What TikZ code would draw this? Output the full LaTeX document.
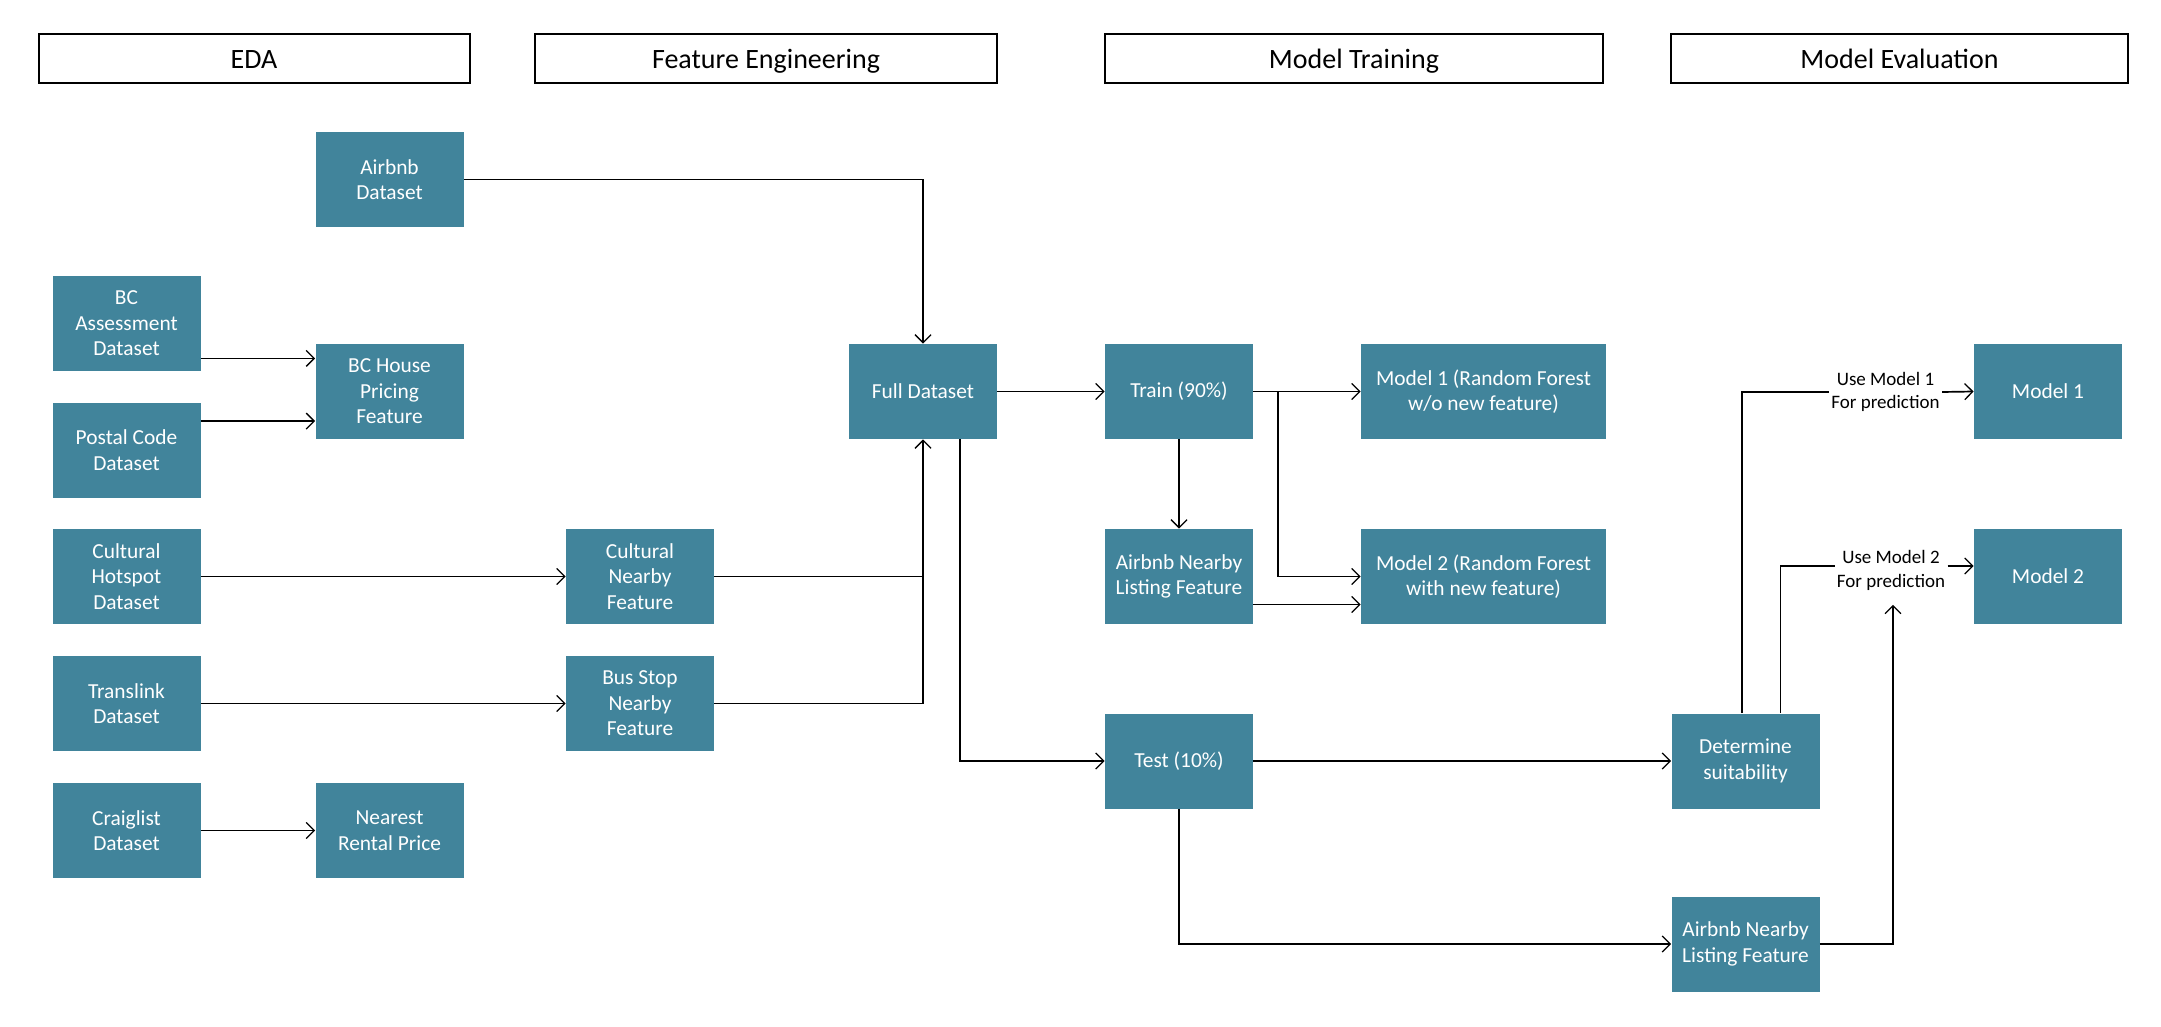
\documentclass[tikz,border=0pt]{standalone}
\usepackage{fontspec}
\setmainfont{Carlito}
\usetikzlibrary{arrows.meta}
\definecolor{tealbox}{RGB}{65,132,155}
\begin{document}
\begin{tikzpicture}[x=0.5pt,y=-0.5pt,
  hdr/.style={draw=black,line width=1pt,minimum height=24.5pt,inner sep=0pt,text height=13pt,text depth=3.2pt,font=\fontsize{14}{16}\selectfont},
  box/.style={fill=tealbox,text=white,minimum width=74pt,minimum height=47.5pt,inner sep=1pt,align=center,font=\fontsize{10.7}{12.8}\selectfont},
  wbox/.style={box,minimum width=122.5pt},
  lbl/.style={inner xsep=1pt,inner ysep=1pt,align=center,font=\fontsize{9.5}{11.75}\selectfont},
  conn/.style={line width=0.85pt},
  arr/.style={conn,-{Straight Barb[length=4pt,width=8pt,line width=0.65pt]}}]
\useasboundingbox (0,0) rectangle (2161,1027);
% headers
\node[hdr,minimum width=215.5pt] (h1) at (254,58.5) {EDA};
\node[hdr,minimum width=231pt] (h2) at (766,58.5) {Feature Engineering};
\node[hdr,minimum width=249pt] (h3) at (1354,58.5) {Model Training};
\node[hdr,minimum width=228.5pt] (h4) at (1899.5,58.5) {Model Evaluation};
% boxes
\node[box] (airbnb) at (389.5,179.5) {Airbnb\\Dataset};
\node[box] (bca) at (126.5,323.5) {BC\\Assessment\\Dataset};
\node[box] (bch) at (389.5,391.5) {BC House\\Pricing\\Feature};
\node[box] (postal) at (126.5,450) {Postal Code\\Dataset};
\node[box] (cult) at (126.5,576.5) {Cultural\\Hotspot\\Dataset};
\node[box] (cultn) at (640,576.5) {Cultural\\Nearby\\Feature};
\node[box] (trans) at (126.5,703.5) {Translink\\Dataset};
\node[box] (busn) at (640,703.5) {Bus Stop\\Nearby\\Feature};
\node[box] (craig) at (126.5,830.5) {Craiglist\\Dataset};
\node[box] (rent) at (389.5,830.5) {Nearest\\Rental Price};
\node[box] (full) at (923,391.5) {Full Dataset};
\node[box] (train) at (1179,391.5) {Train (90\%)};
\node[box] (ant) at (1179,576.5) {Airbnb Nearby\\Listing Feature};
\node[wbox] (rf1) at (1483.5,391.5) {Model 1 (Random Forest\\w/o new feature)};
\node[wbox] (rf2) at (1483.5,576.5) {Model 2 (Random Forest\\with new feature)};
\node[box] (test) at (1179,761) {Test (10\%)};
\node[box] (det) at (1745.5,761) {Determine\\suitability};
\node[box] (anb) at (1745.5,944) {Airbnb Nearby\\Listing Feature};
\node[box] (m1) at (2048,391.5) {Model 1};
\node[box] (m2) at (2048,576.5) {Model 2};
\node[lbl] (lbl1) at (1885.5,392) {Use Model 1\\For prediction};
\node[lbl] (lbl2) at (1891,570.5) {Use Model 2\\For prediction};
% connectors
\draw[arr] (airbnb.east) -| (full.north);
\draw[arr] ([yshift=6.5pt]bca.south east) -- ([yshift=6.5pt]bca.south east -| bch.west);
\draw[arr] ([yshift=-9.5pt]postal.north east) -- ([yshift=-9.5pt]postal.north east -| bch.west);
\draw[arr] (cult.east) -- (cultn.west);
\draw[arr] (trans.east) -- (busn.west);
\draw[arr] (craig.east) -- (rent.west);
\draw[conn] (cultn.east) -- (cultn.east -| full.south);
\draw[arr] (busn.east) -| (full.south);
\draw[arr] (full.east) -- (train.west);
\draw[arr] ([xshift=18.35pt]full.south) |- (test.west);
\draw[arr] (train.east) -- (rf1.west);
\coordinate (br) at (1277.7,391.5);
\draw[arr] (br) |- (rf2.west);
\draw[arr] (train.south) -- (ant.north);
\draw[arr] ([yshift=-14pt]ant.east) -- ([yshift=-14pt]rf2.west);
\draw[arr] (test.east) -- (det.west);
\draw[arr] (test.south) |- (anb.west);
\draw[conn] ([xshift=-1.75pt]det.north) |- (lbl1.west);
\draw[arr] (lbl1.east) -- (m1.west);
\draw[conn] ([xshift=17.5pt]det.north) |- ([yshift=2.25pt]lbl2.west);
\draw[arr] ([yshift=2.25pt]lbl2.east) -- ([yshift=2.25pt]lbl2.east -| m2.west);
\draw[arr] (anb.east) -| ([xshift=1pt,yshift=-6pt]lbl2.south);
\end{tikzpicture}
\end{document}
